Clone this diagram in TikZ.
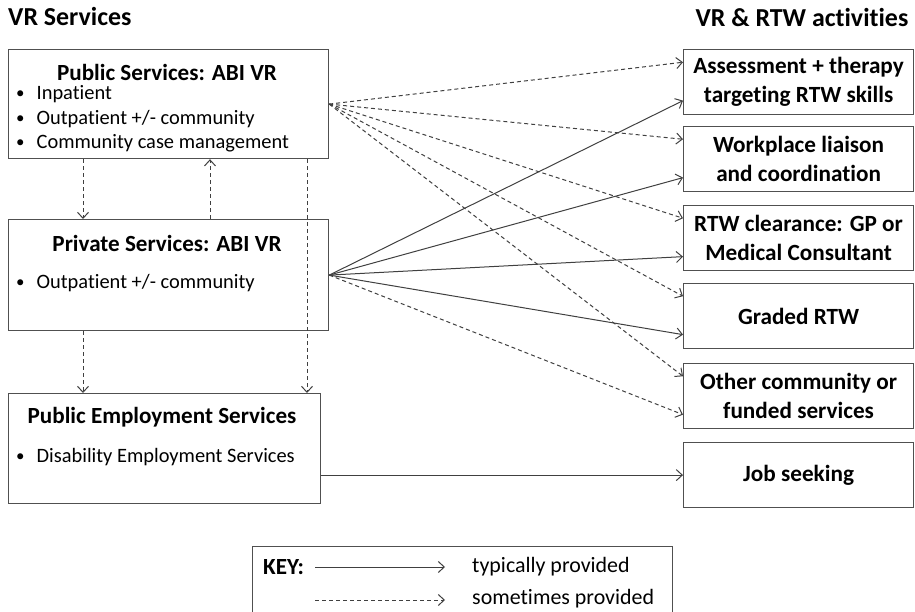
\documentclass[tikz,border=0pt]{standalone}
\usepackage{fontspec}
\setmainfont[Ligatures=NoCommon]{Carlito}
\usetikzlibrary{arrows.meta,calc}
\definecolor{boxc}{HTML}{505050}
\definecolor{linec}{HTML}{404040}
\newcommand{\mybul}{\raisebox{1bp}{\fontsize{17}{20}\selectfont•}\hspace{12bp}}
\begin{document}
\begin{tikzpicture}[x=1bp,y=-1bp,
  box/.style={draw=boxc,line width=1.2bp,inner sep=0pt,anchor=north west},
  head/.style={font=\fontsize{26}{30}\selectfont\bfseries,inner sep=0pt},
  ttl/.style={font=\fontsize{23.2}{27}\selectfont\bfseries,inner sep=0pt},
  txt/.style={font=\fontsize{20.5}{24}\selectfont,anchor=west,inner sep=0pt},
  ktxt/.style={font=\fontsize{22}{26}\selectfont,anchor=west,inner sep=0pt},
  rtxt/.style={font=\fontsize{23.3}{29}\selectfont\bfseries,align=center,inner sep=0pt},
  typ/.style={draw=linec,line width=1bp,-{Straight Barb[length=6bp,width=11bp]}},
  som/.style={typ,dash pattern=on 4bp off 3bp},
]
\useasboundingbox (0,0) rectangle (915,612);

% headers
\node[head,anchor=west] (h1) at (8,17) {VR Services};
\node[head] (h2) at (802,18) {VR \& RTW activities};

% left boxes
\node[box,minimum width=320bp,minimum height=109bp] (pub) at (8,49) {};
\node[box,minimum width=320bp,minimum height=111bp] (priv) at (8,219) {};
\node[box,minimum width=312bp,minimum height=110bp] (pes) at (8,393) {};

\node[ttl] (pubt) at (167,72) {Public Services: ABI VR};
\node[txt] (pb1) at (16,94) {\mybul Inpatient};
\node[txt] (pb2) at (16,119) {\mybul Outpatient +/- community};
\node[txt] (pb3) at (16,143) {\mybul Community case management};

\node[ttl] (privt) at (167,243) {Private Services: ABI VR};
\node[txt] (vb1) at (16,283) {\mybul Outpatient +/- community};

\node[ttl] (pest) at (162,417) {Public Employment Services};
\node[txt] (eb1) at (16,457) {\mybul Disability Employment Services};

% right boxes
\foreach \n/\y in {b1/49,b2/126,b3/205,b4/283,b5/363,b6/442}{
  \node[box,minimum width=230bp,minimum height=65bp] (\n) at (683,\y) {};
  \coordinate (\n-u) at ($(\n.north west)!0.2!(\n.south west)$);
  \coordinate (\n-l) at ($(\n.north west)!0.78!(\n.south west)$);
}
\node[rtxt] (t1) at (b1) {Assessment + therapy\\targeting RTW skills};
\node[rtxt] (t2) at (b2) {Workplace liaison\\and coordination};
\node[rtxt] (t3) at (b3) {RTW clearance: GP or\\Medical Consultant};
\node[rtxt] (t4) at (b4) {Graded RTW};
\node[rtxt] (t5) at (b5) {Other community or\\funded services};
\node[rtxt] (t6) at (b6) {Job seeking};

% connectors
\foreach \n in {b1,b2,b3,b4,b5}{
  \draw[som] (pub.east) -- (\n-u);
}
\foreach \n in {b1,b2,b3,b4}{
  \draw[typ] (priv.east) -- (\n-l);
}
\draw[som] (priv.east) -- (b5-l);
\draw[typ] (b6.west -| pes.east) -- (b6.west);

\draw[som] ($(pub.south west)+(75,0)$) -- ($(priv.north west)+(75,0)$);
\draw[som] ($(priv.north west)+(202,0)$) -- ($(pub.south west)+(202,0)$);
\draw[som] ($(pub.south west)+(299,0)$) -- ($(pes.north west)+(299,0)$);
\draw[som] ($(priv.south west)+(75,0)$) -- ($(pes.north west)+(75,0)$);

% key
\node[box,minimum width=420bp,minimum height=90bp] (key) at (252,546) {};
\node[ttl,anchor=west] (keyt) at (263,567) {KEY:};
\coordinate (k1a) at (315,567);
\coordinate (k1b) at (445,567);
\coordinate (k2a) at (315,600);
\coordinate (k2b) at (445,600);
\draw[typ] (k1a) -- (k1b);
\draw[som] (k2a) -- (k2b);
\node[ktxt] (kt1) at (472,567) {typically provided};
\node[ktxt] (kt2) at (472,599) {sometimes provided};
\end{tikzpicture}
\end{document}
